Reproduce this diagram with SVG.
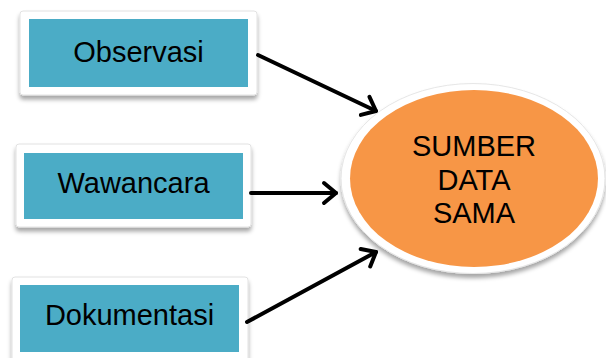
<svg xmlns="http://www.w3.org/2000/svg" width="606" height="358" viewBox="0 0 606 358">
<defs>
<style>
.frame{fill:#ffffff;stroke:#e2e2e2;stroke-width:1}
.inner{fill:#4BACC6}
.lbl{font-family:"Liberation Sans",Arial,sans-serif;font-size:29px;fill:#000000;text-anchor:middle}
.big{font-family:"Liberation Sans",Arial,sans-serif;font-size:29px;fill:#000000;text-anchor:middle}
.conn{stroke:#000000;stroke-width:4;fill:none;stroke-linecap:round}
</style>
<filter id="sh" x="-10%" y="-10%" width="120%" height="130%">
<feDropShadow dx="0" dy="4" stdDeviation="2" flood-color="#000000" flood-opacity="0.35"/>
</filter>
<marker id="arr" markerUnits="userSpaceOnUse" viewBox="-16 -14 20 28" refX="0" refY="0" markerWidth="20" markerHeight="28" orient="auto">
<path d="M -12 -10 L 0 0 L -12 10" fill="none" stroke="#000000" stroke-width="4" stroke-linecap="round" stroke-linejoin="round"/>
</marker>
</defs>
<rect width="606" height="358" fill="#ffffff"/>
<g id="node-observasi">
<rect class="frame" x="20" y="11" width="237" height="84" rx="3" filter="url(#sh)"/>
<rect class="inner" x="29" y="19" width="219" height="68"/>
<text class="lbl" x="138.5" y="62">Observasi</text>
</g>
<g id="node-wawancara">
<rect class="frame" x="16" y="144" width="235" height="83" rx="3" filter="url(#sh)"/>
<rect class="inner" x="24" y="153" width="219" height="66"/>
<text class="lbl" x="133.5" y="193">Wawancara</text>
</g>
<g id="node-dokumentasi">
<rect class="frame" x="12" y="277" width="236" height="90" rx="3" filter="url(#sh)"/>
<rect class="inner" x="20" y="285" width="219" height="67"/>
<text class="lbl" x="129.5" y="325">Dokumentasi</text>
</g>
<g id="node-sumber">
<ellipse cx="473" cy="178.5" rx="132" ry="95" fill="#ffffff" stroke="#e6e6e6" stroke-width="1" filter="url(#sh)"/>
<ellipse cx="474" cy="178.5" rx="124" ry="88.5" fill="#F79646"/>
<text class="big" x="474" y="156">SUMBER</text>
<text class="big" x="474" y="189.5">DATA</text>
<text class="big" x="474" y="223">SAMA</text>
</g>
<g id="connectors">
<line class="conn" x1="258" y1="55" x2="376" y2="111" marker-end="url(#arr)"/>
<line class="conn" x1="251" y1="193" x2="336" y2="193" marker-end="url(#arr)"/>
<line class="conn" x1="247" y1="322" x2="376" y2="252" marker-end="url(#arr)"/>
</g>
</svg>
